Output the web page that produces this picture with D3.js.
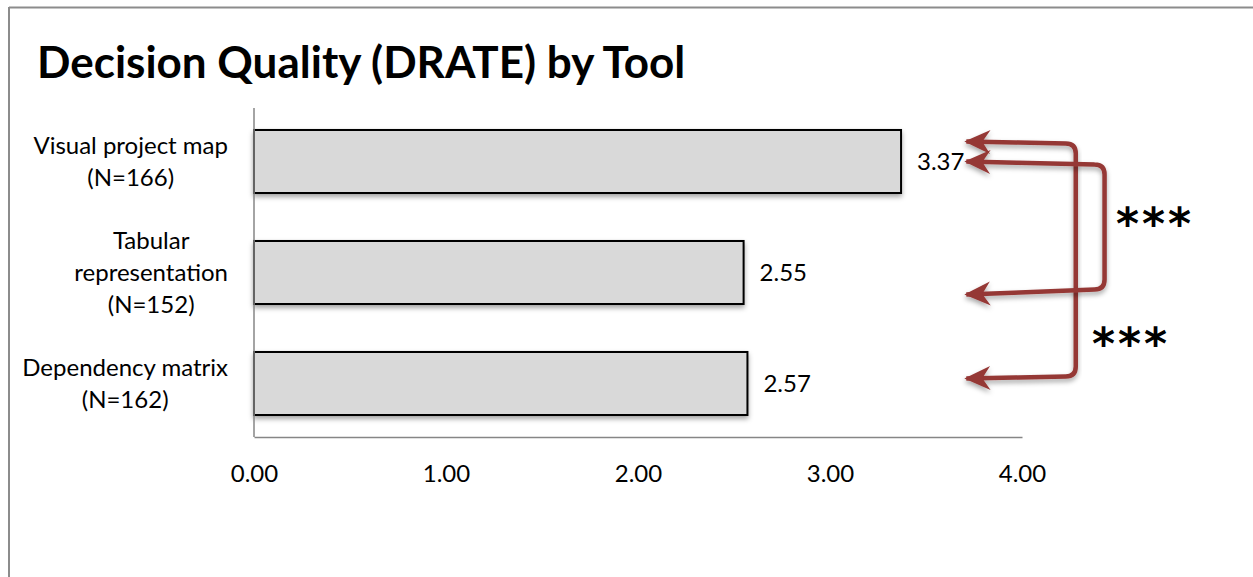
<!DOCTYPE html>
<html>
<head>
<meta charset="utf-8">
<script src="https://cdn.jsdelivr.net/npm/d3@7"></script>
<style>
  body { margin: 0; background: #ffffff; }
  svg { display: block; font-family: Lato, "Open Sans", sans-serif; }
</style>
</head>
<body>
<svg id="svg1" width="1253" height="577"></svg>
<script>
// chart data
const categories = ["Visual project map|(N=166)", "Tabular|representation|(N=152)", "Dependency matrix|(N=162)"];
const drate = [3.37, 2.55, 2.57];
const xTicks = [0, 1, 2, 3, 4];
const sigLabels = ["***", "***"];

const width = 1253;
const height = 577;
const arrowColor = "#953735";

const svg = d3.select("#svg1");
const defs = svg.append("defs");

// soft shadow under bars / arrows
const shadow = defs.append("filter").attr("id", "shadow")
    .attr("x", "-5%").attr("y", "-20%").attr("width", "110%").attr("height", "150%");
shadow.append("feDropShadow")
    .attr("dx", 0).attr("dy", 3).attr("stdDeviation", 2.5)
    .attr("flood-color", "#000").attr("flood-opacity", 0.35);

defs.append("marker")
    .attr("id", "head")
    .attr("viewBox", "0 -13 28 26")
    .attr("refX", 24).attr("refY", 0)
    .attr("markerUnits", "userSpaceOnUse")
    .attr("markerWidth", 28).attr("markerHeight", 26)
    .attr("orient", "auto-start-reverse")
    .append("path")
    .attr("d", "M0,-12 L26,0 L0,12 L8,0 Z")
    .attr("fill", arrowColor);

// frame
svg.append("line").attr("x1", 9).attr("x2", width).attr("y1", 7.5).attr("y2", 7.5)
    .attr("stroke", "#8c8c8c").attr("stroke-width", 2);
svg.append("line").attr("x1", 9).attr("x2", 9).attr("y1", 7).attr("y2", height)
    .attr("stroke", "#8c8c8c").attr("stroke-width", 2);

svg.append("text")
    .attr("x", 37).attr("y", 78)
    .attr("font-size", "44px")
    .attr("font-weight", "bold")
    .attr("fill", "#000")
    .text("Decision Quality (DRATE) by Tool");

const xScale = d3.scaleLinear().domain([0, 4]).range([254, 1022]);
const yScale = d3.scaleBand()
    .domain(categories)
    .range([108, 437])
    .paddingInner(0.432)
    .paddingOuter(0.198);

// bars
svg.append("g").selectAll("rect")
    .data(drate)
    .join("rect")
    .attr("x", xScale(0))
    .attr("y", (d, i) => yScale(categories[i]))
    .attr("width", d => xScale(d) - xScale(0))
    .attr("height", yScale.bandwidth())
    .attr("fill", "#d9d9d9")
    .attr("stroke", "#000")
    .attr("stroke-width", 2)
    .attr("filter", "url(#shadow)");

// value labels
svg.append("g").selectAll("text")
    .data(drate)
    .join("text")
    .attr("x", d => xScale(d) + 16)
    .attr("y", (d, i) => yScale(categories[i]) + yScale.bandwidth() / 2)
    .attr("dy", "0.35em")
    .attr("font-size", "24px")
    .attr("fill", "#000")
    .text(d => d.toFixed(2));

// axes
const bottomAxis = d3.axisBottom(xScale).tickValues(xTicks).tickFormat(d3.format(".2f")).tickSize(0).tickPadding(28);
const gx = svg.append("g").attr("transform", "translate(0,437)").call(bottomAxis);
gx.select(".domain").attr("stroke", "#868686").attr("stroke-width", 1.5);
gx.selectAll("text").attr("font-size", "24px").attr("font-family", "Lato, sans-serif").attr("fill", "#000");

svg.append("line")
    .attr("x1", xScale(0)).attr("x2", xScale(0))
    .attr("y1", 108).attr("y2", 437)
    .attr("stroke", "#868686").attr("stroke-width", 1.5);

// category labels, each block centered, right edge at 228
const labelGroups = svg.append("g").selectAll("g")
    .data(categories)
    .join("text")
    .attr("font-size", "24px")
    .attr("fill", "#000")
    .attr("text-anchor", "middle");

labelGroups.each(function(c) {
    const lines = c.split("|");
    const t = d3.select(this);
    const cy = yScale(c) + yScale.bandwidth() / 2;
    const lh = 32;
    lines.forEach((l, k) => {
        t.append("tspan").attr("x", 0)
            .attr("y", cy + (k - (lines.length - 1) / 2) * lh)
            .attr("dy", "0.35em")
            .text(l);
    });
    let w = 0;
    t.selectAll("tspan").each(function() { w = Math.max(w, this.getComputedTextLength()); });
    t.selectAll("tspan").attr("x", 228 - w / 2);
});

// significance arrows
const c = categories.map(cat => yScale(cat) + yScale.bandwidth() / 2);
const tipX = xScale(3.71);

function bracket(yTop, yBot, xr, yTopR, yBotR) {
    const r = 10;
    return `M${tipX},${yTop} L${xr - r},${yTopR} Q${xr},${yTopR} ${xr},${yTopR + r}` +
           ` L${xr},${yBotR - r} Q${xr},${yBotR} ${xr - r},${yBotR} L${tipX},${yBot}`;
}

const arrows = [
    bracket(c[0] - 20, c[2] - 5, xScale(4.28), c[0] - 18, c[2] - 7),
    bracket(c[0], c[1] + 22, xScale(4.43), c[0] + 3, c[1] + 17)
];

svg.append("g").selectAll("path")
    .data(arrows)
    .join("path")
    .attr("d", d => d)
    .attr("fill", "none")
    .attr("stroke", arrowColor)
    .attr("stroke-width", 4.5)
    .attr("marker-start", "url(#head)")
    .attr("marker-end", "url(#head)")
    .attr("filter", "url(#shadow)");

svg.append("g").selectAll("text")
    .data(sigLabels)
    .join("text")
    .attr("x", (d, i) => i === 0 ? 1155 : 1131)
    .attr("y", (d, i) => i === 0 ? (c[0] + c[1]) / 2 - 9 : (c[1] + c[2]) / 2 + 0)
    .attr("dy", "0.7em")
    .attr("text-anchor", "middle")
    .attr("font-size", "44px")
    .attr("font-weight", "bold")
    .attr("letter-spacing", "3px")
    .attr("font-family", "DejaVu Sans, sans-serif")
    .attr("fill", "#000")
    .text(d => d);
</script>
</body>
</html>
